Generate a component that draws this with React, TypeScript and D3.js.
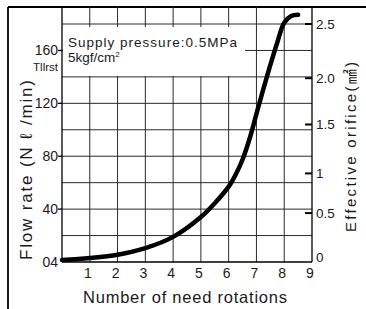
import React from 'react';
import { scaleLinear, line, curveCatmullRom, range } from 'd3';

// values
const rotations = [0, 1, 2, 3, 4, 5, 5.5, 6, 6.25, 6.5, 6.75, 7, 7.25, 7.5, 7.75, 8, 8.25, 8.5];
const flowRate = [1.5, 3, 5.5, 10.5, 19, 34, 44.5, 57, 66, 77.5, 93, 112, 131, 149, 166, 181, 186, 187];

const xTicks = [1, 2, 3, 4, 5, 6, 7, 8, 9];
const flowTicks = [0, 40, 80, 120, 160];
const flowTickLabels = ['04', '40', '80', '120', '160'];
const orificeLabels = ['0', '0.5', '1', '1.5', '2.0', '2.5'];
// flow-rate height at which each orifice tick sits on the right axis
const orificeAtFlow = [2, 37, 67, 104, 139, 180];

const W = 366;
const H = 309;
const font = "'Liberation Sans', Arial, 'Noto Sans CJK JP', sans-serif";

export default function App() {
  const frameTop = 7;
  const x = scaleLinear().domain([0, 9]).range([62, 312]);
  const y = scaleLinear().domain([0, 180]).range([262, 24]);
  const gridY = range(20, 181, 20);
  const gridX = range(1, 9);

  const curve = line<number>()
    .x((d) => x(d))
    .y((_, i) => y(flowRate[i]))
    .curve(curveCatmullRom.alpha(0.5));

  const grid = '#2a2a2a';
  const ink = '#1a1a1a';

  return (
    <svg
      width={W}
      height={H}
      viewBox={`0 0 ${W} ${H}`}
      style={{ position: 'absolute', left: 0, top: 0, background: '#fff' }}
      fontFamily={font}
    >
      <rect width={W} height={H} fill="#fff" />
      {/* outer frame */}
      <line x1={8} x2={8} y1={frameTop} y2={H} stroke="#000" strokeWidth={1.8} />
      <line x1={8} x2={W} y1={frameTop} y2={frameTop} stroke="#000" strokeWidth={1.8} />

      {/* grid */}
      {gridY.map((v) => (
        <line key={'h' + v} x1={x(0)} x2={x(9)} y1={y(v)} y2={y(v)} stroke={grid} strokeWidth={1} />
      ))}
      {gridX.map((v) => (
        <line key={'v' + v} x1={x(v)} x2={x(v)} y1={frameTop} y2={y(0)} stroke={grid} strokeWidth={1} />
      ))}

      {/* legend box */}
      <rect x={x(0) + 1} y={27} width={182} height={49} fill="#fff" />
      <text x={68} y={47} fontSize={13.5} textLength={169} lengthAdjust="spacing" fill={ink}>
        Supply pressure:0.5MPa
      </text>
      <text x={68} y={62} fontSize={13.5} fill={ink}>
        5kgf/cm<tspan fontSize={8} dy={-5}>2</tspan>
      </text>

      {/* axes */}
      <line x1={x(0)} x2={x(0)} y1={frameTop} y2={y(0)} stroke="#000" strokeWidth={1.3} />
      <line x1={x(9)} x2={x(9)} y1={frameTop} y2={y(0)} stroke="#000" strokeWidth={1.3} />
      <line x1={x(0)} x2={x(9)} y1={y(0)} y2={y(0)} stroke="#000" strokeWidth={1.3} />

      {/* left ticks */}
      {flowTicks.map((v, i) => (
        <g key={'l' + v}>
          {v > 0 && <line x1={x(0) - 4} x2={x(0)} y1={y(v)} y2={y(v)} stroke="#000" strokeWidth={1.3} />}
          <text x={x(0) - 4} y={y(v)} dy="0.35em" textAnchor="end" fontSize={14} fill={ink}>
            {flowTickLabels[i]}
          </text>
        </g>
      ))}
      <text x={x(0) - 4} y={71} textAnchor="end" fontSize={11.5} fill={ink}>Tllrst</text>

      {/* right ticks */}
      {orificeLabels.map((lab, i) => (
        <g key={'r' + lab}>
          {i > 0 && (
            <line
              x1={x(9) - 7}
              x2={x(9)}
              y1={y(orificeAtFlow[i])}
              y2={y(orificeAtFlow[i])}
              stroke="#000"
              strokeWidth={2}
            />
          )}
          <text x={x(9) + 4} y={y(orificeAtFlow[i]) - (i === 0 ? 2 : 0)} dy="0.35em" fontSize={13.5} fill={ink}>
            {lab}
          </text>
        </g>
      ))}

      {/* bottom ticks */}
      {xTicks.map((v) => (
        <text key={'x' + v} x={x(v) - 2} y={y(0) + 11} dy="0.35em" textAnchor="middle" fontSize={14} fill={ink}>
          {v}
        </text>
      ))}

      {/* curve */}
      <path
        d={curve(rotations) || ''}
        fill="none"
        stroke="#000"
        strokeWidth={4.5}
        strokeLinecap="round"
        strokeLinejoin="round"
      />

      {/* titles */}
      <text
        transform={`translate(32,170) rotate(-90)`}
        textAnchor="middle"
        fontSize={17}
        textLength={180}
        lengthAdjust="spacing"
        fill={ink}
      >
        Flow rate (N ℓ /min)
      </text>
      <text
        transform={`translate(356,147) rotate(-90)`}
        textAnchor="middle"
        fontSize={15}
        textLength={170}
        lengthAdjust="spacing"
        fill={ink}
      >
        Effective orifice(㎟)
      </text>
      <text x={185} y={303} textAnchor="middle" fontSize={16.5} textLength={204} lengthAdjust="spacing" fill={ink}>
        Number of need rotations
      </text>
    </svg>
  );
}
